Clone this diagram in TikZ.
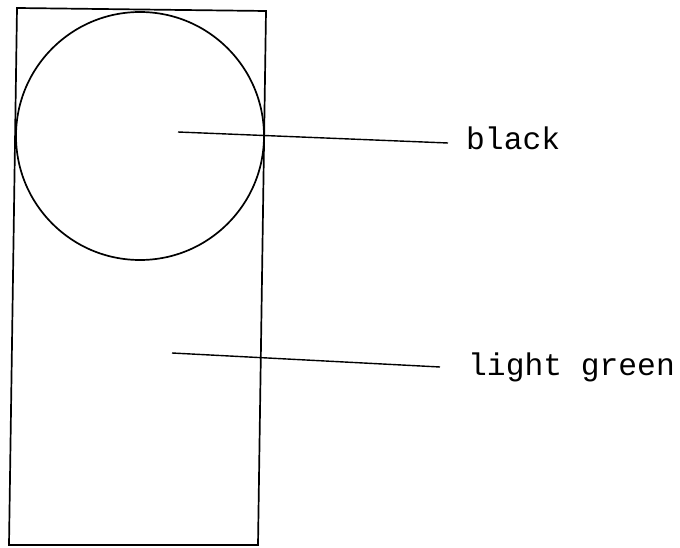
\documentclass[tikz,border=0pt]{standalone}
\usepackage{fontspec}
\setmonofont{Liberation Mono}
\begin{document}
\begin{tikzpicture}[x=1pt,y=-1pt,
  ink/.style={draw=black,line width=1.7pt},
  leader/.style={draw=black,line width=1.4pt},
  lbl/.style={font=\ttfamily\fontsize{31.3}{31.3}\selectfont,inner sep=0pt,anchor=base west}]
\useasboundingbox (0,0) rectangle (680,548);
% body of the object (slightly skewed rectangle)
\draw[ink] (17,8) -- (266,11) -- (258,545) -- (9,545) -- cycle;
% circle
\node[ink,circle,minimum size=248pt,inner sep=0pt] (disc) at (140,136) {};
% labels
\node[lbl] (black) at (466,150) {black};
\node[lbl] (green) at (468,375) {light green};
% leader lines
\coordinate (p1) at (178,132);
\coordinate (q1) at (448,143);
\coordinate (p2) at (172,353);
\coordinate (q2) at (440,367);
\draw[leader] (p1) -- (q1);
\draw[leader] (p2) -- (q2);
\end{tikzpicture}
\end{document}
